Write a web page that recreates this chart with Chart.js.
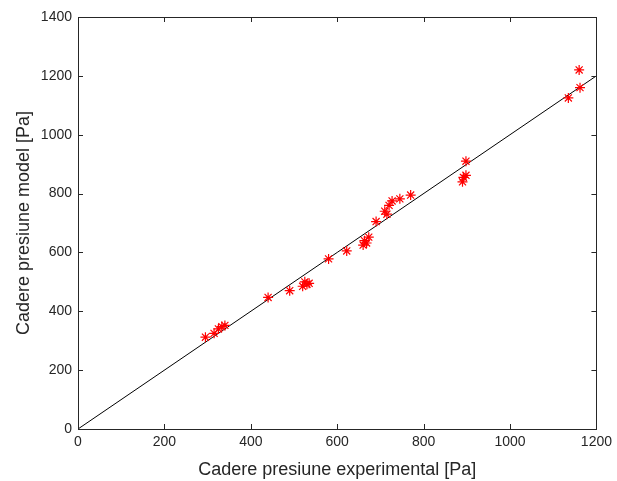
<!DOCTYPE html>
<html><head><meta charset="utf-8">
<script src="https://cdn.jsdelivr.net/npm/chart.js@4/dist/chart.umd.min.js"></script>
<style>html,body{margin:0;padding:0;background:#fff;overflow:hidden}#w{width:617px;height:481px}</style>
</head><body><div id="w"><canvas id="c"></canvas></div>
<script>
const experimental = [295,315,325,333,340,440,490,520,525,530,535,580,622,660,663,668,673,690,710,715,720,727,745,770,890,892,898,898,1135,1160,1162];
const model =        [312,325,340,348,352,447,470,485,500,492,495,578,605,625,640,632,652,705,740,730,760,775,782,795,840,855,862,910,1125,1220,1160];
const lineX = [0,1200];
const lineY = [0,1200];
const xTicks = [0,200,400,600,800,1000,1200];
const yTicks = [0,200,400,600,800,1000,1200,1400];

const boxPlugin = {
  id:'box',
  afterDatasetsDraw(chart){
    const {ctx, chartArea:a, scales:{x,y}} = chart;
    ctx.save();
    ctx.strokeStyle='#262626'; ctx.lineWidth=1;
    ctx.beginPath();
    xTicks.forEach(v=>{const p=Math.round(x.getPixelForValue(v))+0.5;
      ctx.moveTo(p,a.bottom);ctx.lineTo(p,a.bottom-5);ctx.moveTo(p,a.top);ctx.lineTo(p,a.top+5);});
    yTicks.forEach(v=>{const p=Math.round(y.getPixelForValue(v))+0.5;
      ctx.moveTo(a.left,p);ctx.lineTo(a.left+5,p);ctx.moveTo(a.right,p);ctx.lineTo(a.right-5,p);});
    ctx.stroke();
    ctx.strokeRect(Math.round(a.left)+0.5,Math.round(a.top)+0.5,Math.round(a.right-a.left),Math.round(a.bottom-a.top));
    ctx.restore();
  }
};

new Chart(document.getElementById('c'),{
  type:'scatter',
  data:{datasets:[
    {data:lineX.map((v,i)=>({x:v,y:lineY[i]})),showLine:true,borderColor:'#000',borderWidth:1,pointRadius:0,order:2},
    {data:experimental.map((v,i)=>({x:v,y:model[i]})),pointStyle:'star',pointRadius:5,borderColor:'#ff0000',backgroundColor:'#ff0000',borderWidth:1.2,order:1}
  ]},
  options:{
    responsive:true,maintainAspectRatio:false,animation:false,
    layout:{padding:{top:17,right:14,left:13,bottom:0}},
    plugins:{legend:{display:false},tooltip:{enabled:false}},
    scales:{
      x:{type:'linear',min:0,max:1200,
        afterBuildTicks(s){s.ticks=xTicks.map(v=>({value:v}));},
        afterFit(s){s.height=52;},
        grid:{display:false,drawTicks:false},border:{display:false},
        ticks:{color:'#262626',font:{family:'Liberation Sans',size:14},padding:5,maxRotation:0,callback:v=>String(v)},
        title:{display:true,text:'Cadere presiune experimental [Pa]',color:'#262626',font:{family:'Liberation Sans',size:18},padding:{top:3,bottom:0}}},
      y:{type:'linear',min:0,max:1400,
        afterBuildTicks(s){s.ticks=yTicks.map(v=>({value:v}));},
        afterFit(s){s.width=65;},
        grid:{display:false,drawTicks:false},border:{display:false},
        ticks:{color:'#262626',font:{family:'Liberation Sans',size:14},padding:6,callback:v=>String(v)},
        title:{display:true,text:'Cadere presiune model [Pa]',color:'#262626',font:{family:'Liberation Sans',size:18},padding:{top:0,bottom:2}}}
    }
  },
  plugins:[boxPlugin]
});
</script></body></html>
